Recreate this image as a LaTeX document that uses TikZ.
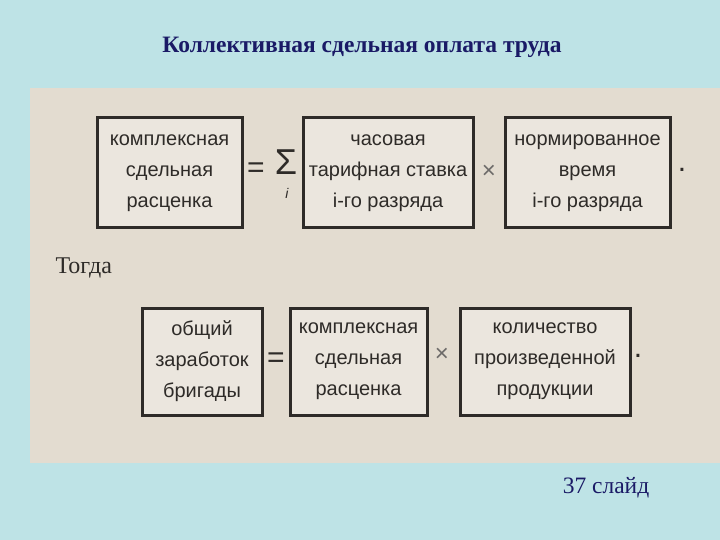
\documentclass[tikz,border=0pt]{standalone}
\usepackage{fontspec}
\setmainfont{Liberation Serif}
\newfontfamily\boxfont{Liberation Sans}
\definecolor{bg}{HTML}{BEE3E6}
\definecolor{paper}{HTML}{E3DCD0}
\definecolor{ink}{HTML}{2E2B28}
\definecolor{navy}{HTML}{1A1A66}
\begin{document}
\begin{tikzpicture}[x=1pt,y=-1pt,
  fbox/.style={draw=ink,line width=3pt,fill=paper!70!white,inner sep=0pt,align=center,
    font=\boxfont\fontsize{20}{31}\selectfont,text=ink},
  sym/.style={font=\boxfont\fontsize{30}{30}\selectfont,text=ink}]
\useasboundingbox (0,0) rectangle (720,540);
\fill[bg] (0,0) rectangle (720,540);
\fill[paper] (30,88) rectangle (720,463);
\node[font=\bfseries\fontsize{23.5}{26}\selectfont,text=navy] (title) at (362,47) {Коллективная сдельная оплата труда};
% row 1
\node[fbox,minimum width=145,minimum height=110] (b1) at (169.5,173) {комплексная\\сдельная\\расценка};
\node[sym] (eq1) at (256,170) {=};
\node[font=\boxfont\fontsize{36}{36}\selectfont,text=ink] (sig) at (286,162) {Σ};
\node[font=\boxfont\itshape\fontsize{14}{14}\selectfont,text=ink] (ii) at (287,193) {i};
\node[fbox,minimum width=170,minimum height=110] (b2) at (388,173) {часовая\\тарифная ставка\\і-го разряда};
\node[font=\boxfont\fontsize{24}{24}\selectfont,text=ink!70] (x1) at (489,172) {×};
\node[fbox,minimum width=165,minimum height=110] (b3) at (587.5,173) {нормированное\\время\\і-го разряда};
\node[sym] (d1) at (682,170) {.};
\node[font=\fontsize{24}{26}\selectfont,text=ink,anchor=west] (then) at (52,268) {Тогда};
% row 2
\node[fbox,minimum width=120,minimum height=107] (b4) at (202,361.5) {общий\\заработок\\бригады};
\node[sym] (eq2) at (276,360) {=};
\node[fbox,minimum width=137,minimum height=107] (b5) at (358.5,361.5) {комплексная\\сдельная\\расценка};
\node[font=\boxfont\fontsize{24}{24}\selectfont,text=ink!70] (x2) at (442,355) {×};
\node[fbox,minimum width=170,minimum height=107] (b6) at (545,361.5) {количество\\произведенной\\продукции};
\node[sym] (d2) at (638,356) {.};
\node[font=\fontsize{23.5}{26}\selectfont,text=navy] (slide) at (606,488) {37 слайд};
\end{tikzpicture}
\end{document}
